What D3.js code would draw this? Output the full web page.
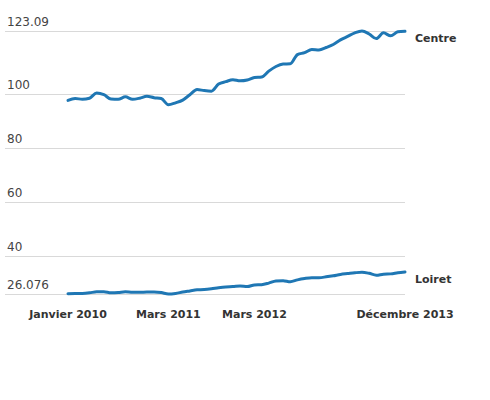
<!DOCTYPE html>
<html>
<head>
<meta charset="utf-8">
<script src="https://cdn.jsdelivr.net/npm/d3@7"></script>
<style>
  body { margin: 0; background: #fff; }
  svg { display: block; font-family: "DejaVu Sans", sans-serif; }
</style>
</head>
<body>
<script>
var w = 490;
var h = 400;

// monthly index, Janvier 2010 -> Décembre 2013
var centre = [97.5, 98.2, 97.9, 98.3, 100.2, 99.6, 98.0, 97.9, 98.8, 97.9, 98.3, 99.0,
              98.5, 98.2, 95.9, 96.6, 97.6, 99.6, 101.5, 101.1, 100.9, 103.5, 104.4, 105.1,
              104.7, 105.0, 105.9, 106.1, 108.3, 110.0, 110.9, 111.0, 114.4, 115.1, 116.3, 116.1,
              117.0, 118.1, 119.8, 121.1, 122.4, 123.09, 122.0, 120.3, 122.4, 121.3, 122.8, 123.0];
var loiret = [26.2, 26.3, 26.3, 26.5, 26.9, 26.9, 26.5, 26.6, 26.9, 26.7, 26.7, 26.8,
              26.8, 26.6, 26.076, 26.3, 26.8, 27.2, 27.6, 27.7, 28.0, 28.4, 28.7, 28.8,
              29.0, 28.8, 29.4, 29.5, 30.1, 30.9, 31.0, 30.6, 31.3, 31.8, 32.1, 32.1,
              32.4, 32.8, 33.3, 33.6, 33.9, 34.1, 33.7, 33.0, 33.4, 33.5, 33.9, 34.2];
var seriesNames = ['Centre', 'Loiret'];
var yTicks = [123.09, 100, 80, 60, 40, 26.076];
var xTickIdx = [0, 14, 26, 47];
var xTickLabels = ['Janvier 2010', 'Mars 2011', 'Mars 2012', 'Décembre 2013'];

var svg = d3.select('body')
            .append('svg')
            .attr('width', w)
            .attr('height', h);

var x = d3.scaleLinear()
          .domain([0, centre.length - 1])
          .range([68, 405]);

var y = d3.scaleLinear()
          .domain([26.076, 123.09])
          .range([294, 31]);

// horizontal grid
svg.selectAll('.grid')
   .data(yTicks)
   .enter()
   .append('line')
   .attr('x1', 5)
   .attr('x2', 405)
   .attr('y1', function(d) { return Math.round(y(d)) + 0.5; })
   .attr('y2', function(d) { return Math.round(y(d)) + 0.5; })
   .attr('stroke', '#d9d9d9')
   .attr('stroke-width', 1);

svg.selectAll('.ylab')
   .data(yTicks)
   .enter()
   .append('text')
   .attr('x', 7)
   .attr('y', function(d) { return y(d) - 5; })
   .attr('font-size', 12)
   .attr('fill', '#444')
   .text(function(d) { return String(d); });

// x labels
svg.selectAll('.xlab')
   .data(xTickIdx)
   .enter()
   .append('text')
   .attr('x', function(d) { return x(d); })
   .attr('y', 318)
   .attr('text-anchor', 'middle')
   .attr('font-size', 11)
   .attr('font-weight', 'bold')
   .attr('fill', '#333')
   .text(function(d, i) { return xTickLabels[i]; });

var line = d3.line()
             .x(function(d, i) { return x(i); })
             .y(function(d) { return y(d); })
             .curve(d3.curveMonotoneX);

var all = [centre, loiret];

all.forEach(function(s, k) {
  svg.append('path')
     .datum(s)
     .attr('d', line)
     .attr('fill', 'none')
     .attr('stroke', '#1f77b4')
     .attr('stroke-width', 3)
     .attr('stroke-linejoin', 'round')
     .attr('stroke-linecap', 'round');

  svg.append('text')
     .attr('x', 415)
     .attr('y', y(s[s.length - 1]) + 11)
     .attr('font-size', 11)
     .attr('font-weight', 'bold')
     .attr('fill', '#333')
     .text(seriesNames[k]);
});
</script>
</body>
</html>
